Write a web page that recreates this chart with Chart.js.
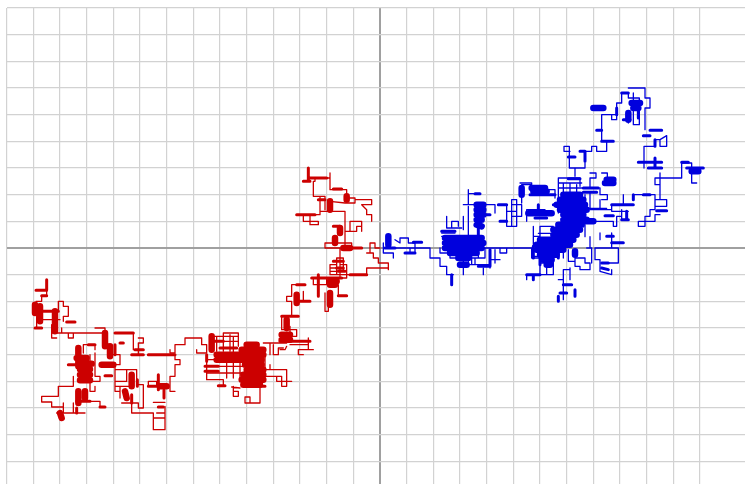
<!DOCTYPE html>
<html>
<head>
<meta charset="utf-8">
<title>Random walk</title>
<script src="https://cdn.jsdelivr.net/npm/chart.js@4/dist/chart.umd.min.js"></script>
<style>
  html, body { margin: 0; padding: 0; background: #fff; overflow: hidden; }
</style>
</head>
<body>
<canvas id="walk" width="745" height="484"></canvas>
<script>
// values are in walk steps, one grid cell = 8 steps. each inner list is one stroke: x,y,x,y...
const redThin = [
  [0,0,-1.5,0,-1.5,1.5,-3,1.5,-3,-1.5,-4,-1.5,-2,-1.5,-2,-3,-0.5,-3,-0.5,-4.5,2.5,-4.5,2.5,-6.5,2.5,-6,-4,-6,-4,-8,-13,-8,-13,-5,-15,-5,-15,-7,-11,-7,-11,-3,-13,-3,-13,-6,-15,-6,-15,-8,-12,-8,-12,-5,-10,-5,-10,-9,-12,-9,-12,0,-16.5,0,-16.5,1.5,-8.5,1.5,-8.5,0,-10.5,0,-10.5,5,-7,5,-7,6.5,-5.5,6.5,-5.5,5,-5.5,8,-9,8,-9,5,-10.5,5,-10.5,11,-18,11,-18,15.5,-18,14.5,-16.5,14.5,-16.5,11.5,-16.5,15.5,-20,15.5,-20,20,-19.5,20,-19.5,21,-15,21,-15,22.5,-15,17.5,-10,17.5,-10,15,-7.5,15,-7.5,14.5,-2.5,14.5,-2.5,13,-5.5,13,-4,11.5,-4,10,-2.5,10,-2.5,8],
  [-7.5,14.5,-7.5,13.5,-10.5,13.5,-15,14,-15,11,-18,11,-18,10,-21,10,-21,7,-18.5,7,-18.5,8,-23,8,-23,10],
  [-20,-9,-20,-11,-16,-11,-16,-9],
  [-16.5,-13.5,-16.5,-19,-15.5,-19,-15.5,-16],
  [-12.5,-11,-12.5,-14],
  [-22.5,-11,-26.5,-11,-26.5,-14.5,-28,-14.5,-28,-16,-26.5,-16,-26.5,-20.5,-29.5,-20.5,-29.5,-24.5,-25,-24.5,-25,-26.5,-29,-26.5],
  [-23,-13,-23,-16],
  [-27,-23.5,-27,-28],
  [-27,-29,-21.5,-29],
  [-21.5,-27,-21.5,-30.5,-20,-30.5,-24.5,-30.5,-24.5,-32,-23,-32],
  [-28,-29.5,-28.5,-30.5,-30,-30.5],
  [-32,-29,-32,-32,-30.5,-32,-30.5,-30,-29,-30],
  [-35,-28.5,-28,-28.5],
  [-33,-28.5,-33,-32],
  [-51,-26.5,-42.5,-26.5],
  [-47,-25.5,-42.5,-25.5,-42.5,-29.5],
  [-47,-25.5,-47,-31],
  [-46,-32.5,-46,-39],[-44,-26.5,-44,-39],[-42,-32.5,-42,-39],
  [-52,-33.5,-41,-33.5],[-52,-35.5,-41,-35.5],[-52,-37.5,-41,-37.5],
  [-49,-28,-42.5,-28],[-49,-26.5,-49,-31],[-45,-26,-45,-31],
  [-52,-34,-52,-39.5,-47,-39.5,-47,-41.5],
  [-55,-30.5,-55,-31.5,-52,-31.5,-52,-29,-53.5,-29,-53.5,-27,-58.5,-27,-58.5,-29,-61.5,-29,-61.5,-31.5,-63,-31.5,-63,-30.5],
  [-44,-41.5,-44,-44.5,-42.5,-44.5,-42.5,-43,-44,-43],
  [-44.5,-41.7,-42,-42],
  [-40.5,-44.7,-40.5,-46.5,-36,-46.5,-36,-41.5],
  [-40.5,-44.7,-39,-44.7,-39,-46.5],
  [-34.5,-32.5,-34.5,-36.5,-28,-36.5,-28,-41.5,-29.5,-41.5,-29.5,-38.5,-31,-38.5,-31,-40,-26.5,-40],
  [-33,-35,-33,-36.5],
  [-34.5,-38.5,-31,-38.5],
  [-61.5,-33.5,-60,-33.5,-60,-35,-61.5,-35,-61.5,-38.5,-63,-38.5,-63,-43,-61.5,-43],
  [-61.5,-32,-61.5,-33.5],
  [-69.5,-41.5,-69.5,-40,-67,-40,-67,-41.5],
  [-64.5,-47.5,-64.5,-54.5,-68,-54.5,-68,-49.5,-74.5,-49.5,-74.5,-44],
  [-68,-51,-64.5,-51],
  [-67,-49.5,-64.5,-49.5],
  [-68,-46.3,-64.5,-46.3],
  [-74,-25.5,-74,-30.5],
  [-72.5,-27,-71,-27,-71,-28.5,-72.5,-28.5,-72.5,-32,-74.5,-32],
  [-80,-32,-78,-32,-78,-35,-79.5,-35,-79.5,-43,-78,-43,-78,-45],
  [-85.5,-24,-82.5,-24,-82.5,-25.5],
  [-93.5,-25.5,-82.5,-25.5],
  [-93.5,-25.5,-93.5,-27,-92,-27,-92,-25.5],
  [-89,-29,-85.5,-29,-85.5,-30.5],
  [-89,-29,-89,-31.5],
  [-87,-32,-87,-36.5],
  [-85.5,-31.5,-85.5,-38.5,-84,-38.5,-84,-40,-87,-40,-87,-43,-85.5,-43,-85.5,-41.5],
  [-92,-38.5,-92,-41.5,-96.5,-41.5,-96.5,-44.5,-101.5,-44.5,-101.5,-46.2,-98.5,-46.2,-98.5,-47.7,-95,-47.7],
  [-95,-46.5,-95,-49.5,-97,-49.5],
  [-95,-49.5,-88.5,-49.5],
  [-92,-46.5,-92,-49.5],
  [-87,-46,-84,-46,-84,-47.7],
  [-79.5,-36.5,-73,-36.5,-73,-41,-71,-41,-71,-48,-72.5,-48,-72.5,-46.5,-74.5,-46.5],
  [-76,-36.5,-76,-40,-79.5,-40],
  [-79.5,-41.5,-74.5,-41.5],
  [-78,-41.5,-78,-43],
  [-77.5,-46.5,-74.5,-46.5],
  [-100,-12.7,-100,-14.3,-101.5,-14.3,-101.5,-16,-103.2,-16],
  [-96.5,-19,-96.5,-16,-95,-16,-95,-17.5,-93.5,-17.5,-93.5,-20.5,-95,-20.5,-95,-22],
  [-98.5,-23,-98.5,-27,-97,-27],
  [-103,-20.5,-103,-24],
  [-101,-21.5,-96,-21.5],
  [-95.5,-24,-95.5,-25.5],
  [-98.5,-25.5,-93.5,-25.5]
];
const redThick = [
  [-4,-8,-9,-8],
  [-21.5,24,-21.5,20],[-23,20,-21,20],[-21,21,-16,21],
  [-14,17.7,-11.5,17.7],[-18.5,14.5,-16.5,14.5],[-25,10,-19.5,10],
  [-12,6.5,-14,6.5],[-10.5,0,-5.5,0],
  [-20.5,-9,-11.5,-9],[-18.5,-8,-18.5,-14.5],[-12.5,-14.3,-10,-14.3],
  [-25,-11,-22.5,-11],[-25,-16,-21,-16],
  [-29.5,-20.5,-24.5,-20.5],[-30,-28,-21,-28],[-36,-41.5,-34.5,-41.5],
  [-52.5,-35.5,-48.5,-35.5],[-52.5,-37,-48.5,-37],[-52,-32,-52,-34],[-48.5,-41.3,-46.5,-41.3],
  [-69.5,-32,-61.5,-32],[-64,-41.5,-69.5,-41.5],[-66.5,-38,-66.5,-42.5],[-64.8,-42.5,-64.8,-45],
  [-66.5,-47.7,-65,-47.7],
  [-79.5,-25.5,-74,-25.5],[-78,-28.5,-77,-28.5],[-73.5,-30.5,-71,-30.5],[-74.5,-32,-71,-32],
  [-72.8,-39.5,-72.8,-41.5],[-82.5,-38.3,-80.5,-38.3],[-84,-47.7,-82.5,-47.7],
  [-87.5,-29,-85.5,-29],[-93.5,-35,-90.5,-35],[-91,-48,-91,-49.5],[-91,-46,-87,-46],
  [-100,-9.5,-100,-12.5],[-103.2,-12.7,-100,-12.7],[-101.5,-14.3,-100,-14.3],
  [-101.5,-19,-96.5,-19],[-94,-22.2,-91.5,-22.2],[-103.5,-24,-101.5,-24],
  [-74.5,-44,-74.5,-46.5],[-79.5,-29,-79.5,-32],
  [-50,-28,-47,-28],[-48,-30,-43,-30],[-14,-4,-11,-4],[-13,-6,-11,-6],[-12.5,-7,-10.5,-7]
];
const redBlob = [
  [-10,15.5,-10,14.5],[-15,14,-15,11.5],[-12,6,-12,4.5],[-13.5,3,-13.5,1.5],[-11,0,-9,0],
  [-15,-10,-13,-10],[-15,-11,-13.5,-11],[-15,-13.5,-15,-17],[-25,-14,-25,-16.5],
  [-28,-21.5,-28,-24],[-29.5,-26,-27,-26],[-29.5,-27.5,-27,-27.5],
  [-40,-29,-37,-29],[-41.5,-30.5,-35,-30.5],[-49,-32,-35,-32],[-49,-33.5,-35.5,-33.5],
  [-40.5,-35,-35.5,-35],[-40,-36.5,-35,-36.5],[-41,-38,-35,-38],[-41.5,-39.5,-35,-39.5],[-41,-41,-36,-41],
  [-50.5,-26.5,-50.5,-30.5],
  [-96,-49.5,-95.5,-51],[-66,-41.5,-64,-41.5],
  [-81,-29.5,-81,-32.5],[-83.5,-35,-80,-35],[-82.5,-25.5,-82.5,-29.5],
  [-90.5,-30,-90.5,-35.5],[-91,-33,-88,-33],[-90,-34.7,-86.5,-34.7],[-90,-36.4,-87,-36.4],[-90,-38,-87,-38],[-90,-39.7,-87,-39.7],
  [-90.5,-43,-90.5,-46.5],[-88.5,-43,-88.5,-45],[-74.5,-38,-74.5,-41.5],[-76.5,-43,-76,-45],
  [-103.5,-17,-103.5,-19.5],[-102,-17.5,-102,-22],[-97.5,-19,-97.5,-25]
];

const blueThin = [
  [1,1.5,1,-1.5,4,-1.5,4,-3],
  [4.5,0,15,0,15,-3,18,-3,18,-5.5,20,-5.5,20,-8,22,-8],
  [4.5,2.5,6,1.5,6,3,8.5,3,8.5,1.5,10.5,1.5,10.5,-1.5],
  [9,0,9,-1.5],
  [18,0,18,-1.5,20,-1.5],
  [18.5,3.5,20,3.5],
  [20,9.5,20,6,24.5,6],[21.5,8,23.5,8,23.5,6.5],[21.5,8,21.5,6],[25,9.5,25,5.5],[26.5,12.5,26.5,2.5],
  [26.5,17.5,26.5,13,25,13,28.5,13,28.5,10.5],
  [26.5,16.3,28.5,16.3],
  [31.5,13,34.5,13,34.5,10.5],
  [38,13,38,6.5,39.5,6.5,39.5,14.5,41,14.5,41,6.5,38,6.5],
  [38,11,41,11],
  [39.5,9.5,42.5,9.5,42.5,13,39.5,13],
  [42.5,19,45.5,19,45.5,16.5],
  [42.5,19,42.5,13.5],
  [44,11.5,44,8],[44,11.5,49.5,11.5],
  [30.5,0,45.5,0],[38,0,38,-1.5,36,-1.5,36,0],
  [31.5,0,31.5,-3,26.5,-3,26.5,-5,33,-5,33,-6],
  [34.5,-0.5,34.5,-4.5],[33,-3.5,36,-3.5],
  [31,-6,31,-8],[25,-3,25,-8],[28.5,-3,28.5,-5],
  [45.5,0,45.5,-3,48,-3,48,-8,44,-8,44,-9.5],
  [55,-6.5,55,-15.5],[57,-6,57,-9.5],[53.5,-9.5,55,-9.5],[55,-6.5,57,-6.5],
  [48,-4.5,52,-4.5,52,-8,48,-8],[50,-4.5,50,-8],
  [58.5,-3,61.5,-3,61.5,-4.5,63,-4.5,63,-6.5,60,-6.5,60,-5.5,58.5,-5.5,58.5,-3],
  [62,0,63.5,0,63.5,-4.5],
  [64.5,0,64.5,-3.5,66,-3.5,66,-7,69.5,-8,69.5,-6.5],
  [64.5,0,71.5,0,71.5,-4.5,68.5,-4.5],
  [69.5,4.5,69.5,0],[66,4.5,66,2.5],
  [63.5,8,70,8,70,6.5,71,6.5,71,9.5,72.5,9.5],
  [69.5,13,69.5,11,74.5,11],[72.5,11.5,72.5,8.5],[73,16,73,13],
  [76,16,82.5,16,82.5,11.5,81,11.5,81,9.5,79.5,9.5,79.5,6.5,77.5,6.5,77.5,8,82.5,8,82.5,10,84,10],
  [84,22.5,84,14.5,86,14.5,86,12.5,82.5,12.5,82.5,14.5,84,14.5],
  [82.5,21,84,21],[82.5,21,82.5,19,84,19],
  [82.5,21,90.5,21,90.5,25.5,93.5,25.5,93.5,19.5,95,19.5],
  [79.2,30.5,79.2,24],
  [79.2,30.5,82.5,30.5,82.5,32.5,84,32.5,86,33.7,86,30.5,84,30.5,84,32.5],
  [79.5,35.5,79.5,42,81,42,81,45,79.5,45,79.5,48,74.5,48],
  [72.5,46.5,72.5,43.5,71,43.5,71,40,66.5,40],
  [69.5,40,69.5,38.5,71,38.5,71,40],
  [66.5,40,66.5,32,68,32,68,29,65,29,65,30.5,63.5,30.5,63.5,29,60,29],
  [61.5,25.5,61.5,24,58.5,24,58.5,21.5],
  [57,29,55.2,29,55.2,30.5,56.8,30.5,56.8,24,58.5,24],
  [76,46.5,76,37,77.8,37,77.8,45,74.5,45,74.5,46.5],
  [74.5,37.5,74.5,40],
  [53.5,21,60,21,60,18.5],
  [63,22.5,64.8,22.5,64.8,21,63,21,63,18],
  [66.5,22.5,68.2,22.5,68.2,20.5],
  [66,18,66,16,68.2,16,68.2,14.5,66.5,14.5],
  [53.5,21,53.5,10.5],[55,19.5,55,15.5],[57,19.5,57,15.5],[59,19,59,15.5],
  [53.5,19.5,60.5,19.5],[53.5,18,60.5,18],
  [61.5,16,61.5,12.5],[63,16.5,63,11.5,69.5,11.5],[66,14.5,66,11.5],
  [42,19.5,45.5,19.5,45.5,17],[50,17.5,52.5,17.5,52.5,15],
  [46,6.5,46,3.5,48,3.5],[48,6.5,52,6.5],[48,6.5,48,0.5],
  [47.5,4.4,52.5,4.4],[46,5.9,46,0.4,47.5,0.4],
  [46,-2.5,48,-2.5],[53.5,0,53.5,-3],[55,0,55,-3],[50,-3,50,-4.5],[52,0,52,-4.5],
  [56.5,-0.5,56.5,-4,58.5,-4],
  [61.5,14.4,61.5,3.4],[63,3.4,63,0],[60.5,11.9,68,11.9],
  [18.5,4.5,22.5,4.5],[21,-1,21,-3,23.5,-3],[27.5,-2,27.5,-5],[29.5,-1,29.5,-3]
];
const blueThick = [
  [1.5,0,4.5,0],[10,1.7,12.5,1.7],[7.5,-1.5,10.5,-1.5],[21.5,-8,21.5,-11],
  [18.5,5,22.5,5],[28.5,16.3,30,16.3],[29.5,10.5,29.5,3],[31.5,10,33,10],[35.5,13,38,13],[36,8,38,8],
  [33,-0.5,33,-5.5],[29.5,-5.5,33,-5.5],[44,-8,48,-8],
  [46.5,9,50,9],[46,-9.5,46,-8],
  [55,-11,57.5,-11],[54,-13.5,56,-13.5],[53.5,-14.5,53.5,-16],[58.5,-12.5,58.5,-14.5],
  [68.5,-6.5,66.5,-6],[69.5,1.6,73,1.6],[68,3.5,70,3.5],[67.5,9.7,70,9.7],
  [69.5,13,76,13],[72.5,8.5,74.5,8.5],[74,11,74,8.5],[76,16,76,14.5],[79,16,81,16],
  [83,11.2,86,11.2],[90.5,25.7,92.5,25.7],[92,24,97,24],[80.5,24,84.5,24],[82.5,27,82.5,24],
  [77.5,25.7,84.5,25.7],[79,33.7,81,33.7],[81,35.3,84.5,35.3],[82.5,32.5,82.5,30.5],
  [72.5,46.5,74.5,46.5],[71,42,71,40],[66.5,32,70,32],[65,35.3,66.5,35.3],[61.5,29,61.5,26],[60,29,61.5,29],
  [56.5,27.3,58.5,27.3],[73,38.5,75,38.5],[77.5,44,77.5,39],
  [56.5,20.8,60,20.8],[61,18,65.5,18],[61,16.7,65,16.7],
  [45,16,52.5,16],[47.5,13,47.5,10.5],[52,13,54,13],
  [46,0.5,46,-3],[66.5,-4.5,68.5,-4.5],[48,-5,48,-2],[53.5,-1,53.5,-3]
];
const blueBlob = [
  [2.5,3.5,2.5,1],
  [19.5,3,30.5,3],[19.5,1.5,31,1.5],[19.5,0,30.5,0],[21,-1.5,29,-1.5],[23.5,-3,26.5,-3],[24,-5,26,-5],
  [29,13,31,13],[29,11.5,31,11.5],[29,10,31,10],[29,8.5,30.5,8.5],[29,7,30.5,6.5],
  [42.5,18,42.5,16],[46,17,50,17],[45.5,18,49.5,18],[44.5,10.4,51.5,10.4],
  [55,16,60,16],[54,14.5,61,14.5],[53,13,61.5,13],[54,11.5,62,11.5],[55,10,61,10],[55,8.5,62,8.5],
  [53.5,7,60.5,7],[52,5.5,60,5.5],[52,4,59,4],[48,2.5,58,2.5],[47,1,57,1],[47,-0.5,55,-0.5],[48,-2,53,-2],[49,-3.5,51.5,-3.5],[50,-5,51,-5],
  [62,8,64,8],[58.5,-1,58.5,-2],
  [93.5,23,95.5,23],[64,42,67,42],[74.5,40.5,74.5,38.5],[75.5,43.5,78,43.5],[76,42,77.5,42],
  [68,20.5,70,20.5],[67.5,19.5,70,19.5]
];

const xGridStep = 8;
const yGridStep = 8;

function toPoints(strokes) {
  const pts = [];
  strokes.forEach(s => {
    for (let i = 0; i < s.length; i += 2) {
      pts.push({ x: s[i], y: s[i + 1] });
    }
    pts.push({ x: null, y: null }); // break the line here
  });
  return pts;
}

function walkSet(strokes, color, width, order) {
  return {
    data: toPoints(strokes),
    borderColor: color,
    backgroundColor: color,
    borderWidth: width,
    borderCapStyle: 'round',
    borderJoinStyle: 'round',
    showLine: true,
    spanGaps: false,
    pointRadius: 0,
    pointHoverRadius: 0,
    order: order
  };
}

function gridAxis(min, max, step) {
  return {
    type: 'linear',
    min: min,
    max: max,
    border: { display: false },
    ticks: { display: false, stepSize: step },
    afterBuildTicks: axis => {
      axis.ticks = axis.ticks.filter(t => t.value % step === 0);
    },
    grid: {
      drawTicks: false,
      color: c => c.tick.value === 0 ? '#a0a0a0' : '#d2d2d2',
      lineWidth: c => c.tick.value === 0 ? 2 : 1.2
    }
  };
}

new Chart(document.getElementById('walk'), {
  type: 'scatter',
  data: {
    datasets: [
      walkSet(blueBlob, '#0000dd', 6.5, 1),
      walkSet(blueThick, '#0000dd', 3, 2),
      walkSet(blueThin, '#0000dd', 1.3, 3),
      walkSet(redBlob, '#cc0000', 6.5, 4),
      walkSet(redThick, '#cc0000', 3, 5),
      walkSet(redThin, '#cc0000', 1.3, 6)
    ]
  },
  options: {
    responsive: false,
    animation: false,
    layout: { padding: { left: 6.67, top: 8, right: 0, bottom: 0 } },
    plugins: { legend: { display: false }, tooltip: { enabled: false } },
    scales: {
      x: gridAxis(-112, 109.5, xGridStep),
      y: gridAxis(-70.8, 72, yGridStep)
    }
  }
});
</script>
</body>
</html>
